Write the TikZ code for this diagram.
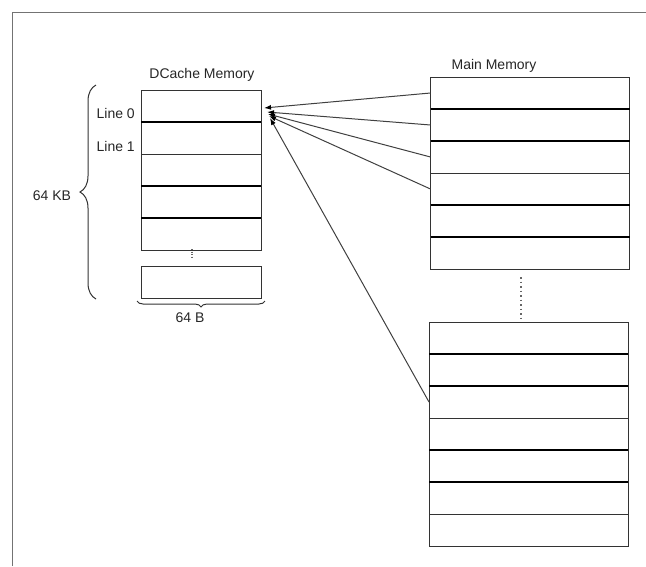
\documentclass[tikz,border=0pt]{standalone}
\usepackage{fontspec}
\setmainfont{Liberation Sans}
\usetikzlibrary{arrows.meta,calc,decorations.pathreplacing,positioning}
\tikzset{
	cell/.style={draw=black!80,line width=1pt,minimum height=32pt,inner sep=0pt,outer sep=0pt},
	dcell/.style={cell,minimum width=120pt},
	mcell/.style={cell,minimum width=199pt},
	sep/.style={black,line width=2pt},
	gap/.style={black!60,line width=1.5pt,dash pattern=on 1.5pt off 3pt},
	link/.style={black!75,line width=1pt,-{Latex[length=7pt,width=5pt,color=black]}},
	lbl/.style={inner sep=0pt,text=black!85,font=\fontsize{14}{16}\selectfont},
	bracket/.style={black!80,line width=1pt,decorate},
}

\begin{document}
\begin{tikzpicture}[x=1pt,y=-1pt]
						\useasboundingbox (0,0) rectangle (646,566);
						\draw[black!55,line width=1.5pt] (12.5,566) -- (12.5,12.5) -- (646,12.5);
						% dcache
						\node[lbl] (dtitle) at (202,75) {DCache Memory};
						\node[dcell] (c0) at (201,106) {};
						\node[dcell] (c1) at (201,138) {};
						\node[dcell] (c2) at (201,170) {};
						\node[dcell] (c3) at (201,202) {};
						\node[dcell] (c4) at (201,234) {};
						\node[dcell] (c5) at (201,282) {};
						\draw[sep] (c0.south west) -- (c0.south east);
						\draw[sep] (c2.south west) -- (c2.south east);
						\draw[sep] (c3.south west) -- (c3.south east);
						\draw[gap,dash pattern=on 1.2pt off 1.3pt,line width=2pt] ($(c4.south)+(-9,-1)$) -- ($(c5.north)+(-9,-8)$);
						\node[lbl,anchor=east] (line0) at (135,113) {Line 0};
						\node[lbl,anchor=east] (line1) at (135,146) {Line 1};
						\draw[bracket,decoration={brace,amplitude=16pt}] ($(c5.south west)+(-45,1)$) -- ($(c0.north west)+(-45,-5)$);
						\node[lbl] (kb) at (52,196) {64 KB};
						\draw[bracket,decoration={brace,mirror,amplitude=6pt}] ($(c5.south west)+(-4,3)$) -- ($(c5.south east)+(4,3)$);
						\node[lbl] (b) at (190,318) {64 B};
						% main memory
						\node[lbl] (mtitle) at (494,66) {Main Memory};
						\node[mcell] (m0) at (530,93) {};
						\node[mcell] (m1) at (530,125) {};
						\node[mcell] (m2) at (530,157) {};
						\node[mcell] (m3) at (530,189) {};
						\node[mcell] (m4) at (530,221) {};
						\node[mcell] (m5) at (530,253) {};
						\draw[sep] (m0.south west) -- (m0.south east);
						\draw[sep] (m1.south west) -- (m1.south east);
						\draw[sep] (m3.south west) -- (m3.south east);
						\draw[sep] (m4.south west) -- (m4.south east);
						\node[mcell] (n0) at (528.5,338) {};
						\node[mcell] (n1) at (528.5,370) {};
						\node[mcell] (n2) at (528.5,402) {};
						\node[mcell] (n3) at (528.5,434) {};
						\node[mcell] (n4) at (528.5,466) {};
						\node[mcell] (n5) at (528.5,498) {};
						\node[mcell] (n6) at (528.5,530) {};
						\draw[sep] (n0.south west) -- (n0.south east);
						\draw[sep] (n1.south west) -- (n1.south east);
						\draw[sep] (n3.south west) -- (n3.south east);
						\draw[sep] (n4.south west) -- (n4.south east);
						\draw[gap] ($(m5.south)+(-9,8)$) -- ($(n0.north)+(-7.5,-3)$);
						% mapping
						\draw[link] (m0.west) -- ($(c0.east)+(3,2)$);
						\draw[link] (m1.west) -- ($(c0.east)+(6,6)$);
						\draw[link] (m2.west) -- ($(c0.east)+(7,8)$);
						\draw[link] (m3.west) -- ($(c0.east)+(8,10)$);
						\draw[link] (n2.west) -- ($(c0.east)+(9,12)$);
					\end{tikzpicture}
\end{document}
